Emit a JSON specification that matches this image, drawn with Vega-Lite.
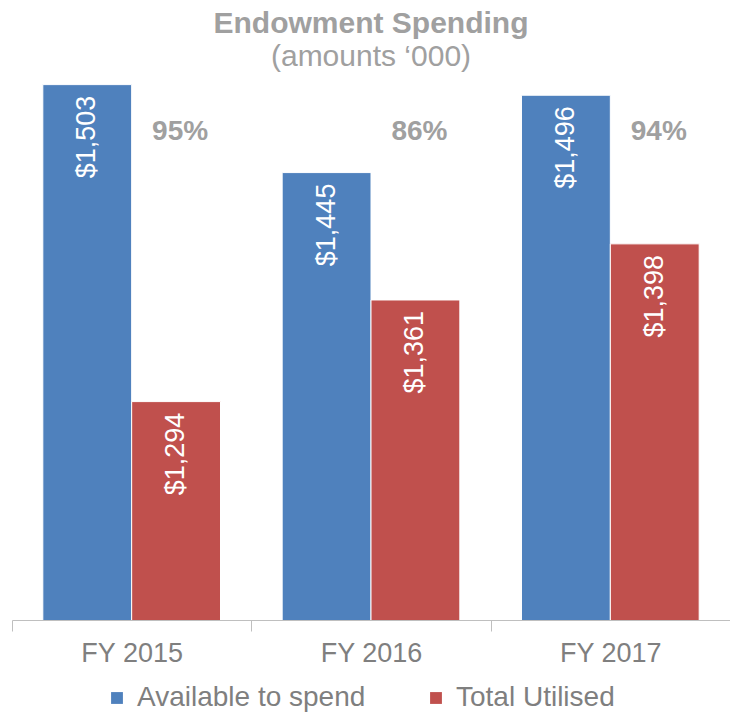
{
  "$schema": "https://vega.github.io/schema/vega-lite/v6.json",
  "width": 718,
  "height": 546,
  "autosize": {"type": "none"},
  "padding": {"left": 12, "top": 74, "right": 0, "bottom": 93},
  "background": "white",
  "title": {
    "text": "Endowment Spending",
    "subtitle": "(amounts ‘000)",
    "font": "Liberation Sans",
    "fontSize": 30,
    "fontWeight": "bold",
    "color": "#a0a0a0",
    "subtitleFont": "Liberation Sans",
    "subtitleFontSize": 30,
    "subtitleColor": "#a0a0a0",
    "subtitlePadding": 3,
    "offset": 2,
    "anchor": "middle"
  },
  "data": {
    "values": [
      {"year": "FY 2015", "series": "Available to spend", "value": 1503, "pct": ""},
      {"year": "FY 2015", "series": "Total Utilised", "value": 1294, "pct": "95%"},
      {"year": "FY 2016", "series": "Available to spend", "value": 1445, "pct": ""},
      {"year": "FY 2016", "series": "Total Utilised", "value": 1361, "pct": "86%"},
      {"year": "FY 2017", "series": "Available to spend", "value": 1496, "pct": ""},
      {"year": "FY 2017", "series": "Total Utilised", "value": 1398, "pct": "94%"}
    ]
  },
  "encoding": {
    "x": {
      "field": "year",
      "type": "nominal",
      "sort": null,
      "scale": {"paddingInner": 0, "paddingOuter": 0},
      "axis": {
        "title": null,
        "labelAngle": 0,
        "labelFont": "Liberation Sans",
        "labelFontSize": 27,
        "labelColor": "#7f7f7f",
        "domainColor": "#bfbfbf",
        "tickColor": "#bfbfbf",
        "tickSize": 11,
        "tickBand": "extent",
        "labelPadding": 9,
        "zindex": 1
      }
    },
    "xOffset": {
      "field": "series",
      "type": "nominal",
      "sort": ["Available to spend", "Total Utilised"],
      "scale": {"paddingInner": 0, "paddingOuter": 0.347}
    }
  },
  "layer": [
    {
      "mark": {"type": "bar", "stroke": "white", "strokeWidth": 1, "clip": true},
      "encoding": {
        "y": {
          "field": "value",
          "type": "quantitative",
          "scale": {"domain": [1150, 1510], "zero": false, "nice": false},
          "axis": null
        },
        "color": {
          "field": "series",
          "type": "nominal",
          "sort": ["Available to spend", "Total Utilised"],
          "scale": {"domain": ["Available to spend", "Total Utilised"], "range": ["#4F81BD", "#C0504D"]},
          "legend": {
            "title": null,
            "orient": "none",
            "direction": "horizontal",
            "legendX": 91,
            "legendY": 610,
            "symbolType": "square",
            "symbolSize": 140,
            "symbolStrokeWidth": 0,
            "labelFont": "Liberation Sans",
            "labelFontSize": 28,
            "labelColor": "#7f7f7f",
            "labelLimit": 500,
            "labelOffset": 6,
            "columnPadding": 56
          }
        }
      }
    },
    {
      "mark": {"type": "text", "angle": 270, "align": "right", "baseline": "middle", "dx": -11, "color": "white", "font": "Liberation Sans", "fontSize": 27},
      "encoding": {
        "y": {"field": "value", "type": "quantitative"},
        "text": {"field": "value", "type": "quantitative", "format": "$,.0f"}
      }
    },
    {
      "transform": [{"filter": "datum.pct != ''"}],
      "mark": {"type": "text", "align": "center", "baseline": "middle", "dx": 4, "color": "#a0a0a0", "font": "Liberation Sans", "fontSize": 28, "fontWeight": "bold"},
      "encoding": {
        "y": {"datum": 1472},
        "text": {"field": "pct", "type": "nominal"}
      }
    }
  ],
  "config": {"view": {"stroke": null}}
}
